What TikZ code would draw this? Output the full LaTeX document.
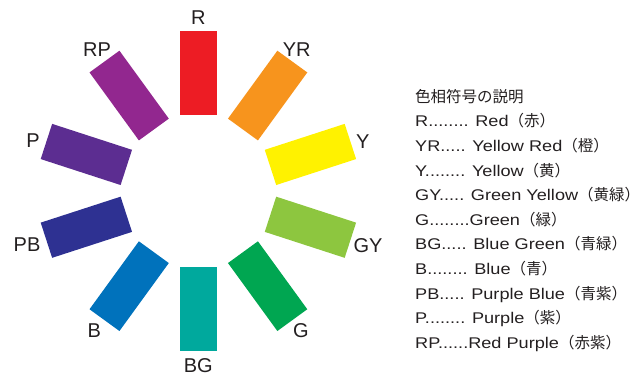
\documentclass[tikz,border=0pt]{standalone}
\usepackage{fontspec}
\setmainfont{Liberation Sans}
\newfontfamily\cjk{Noto Sans CJK JP}
\newfontfamily\legfont[FakeStretch=1.17]{Liberation Sans}
\usetikzlibrary{calc}
\definecolor{cR}{HTML}{ED1C24}
\definecolor{cYR}{HTML}{F7941D}
\definecolor{cY}{HTML}{FFF200}
\definecolor{cGY}{HTML}{8DC63F}
\definecolor{cG}{HTML}{00A651}
\definecolor{cBG}{HTML}{00A99D}
\definecolor{cB}{HTML}{0072BC}
\definecolor{cPB}{HTML}{2E3192}
\definecolor{cP}{HTML}{5C2D91}
\definecolor{cRP}{HTML}{92278F}
\definecolor{ink}{HTML}{231F20}
\begin{document}
\begin{tikzpicture}[x=1pt,y=1pt,
  bar/.style={minimum width=37pt,minimum height=84pt,inner sep=0pt,draw=none},
  lab/.style={font=\fontsize{20}{24}\selectfont,text=ink,inner sep=0pt},
  leg/.style={font=\legfont\fontsize{15.5}{18}\selectfont,text=ink,anchor=base west,inner sep=0pt}]
\useasboundingbox (0,0) rectangle (640,376);
\coordinate (c) at (198.4,185.15);
\foreach \nm/\ang/\col in {R/90/cR,YR/54/cYR,Y/18/cY,GY/-18/cGY,G/-54/cG,BG/-90/cBG,B/-126/cB,PB/-162/cPB,P/162/cP,RP/126/cRP}
  \node[bar,fill=\col,rotate=\ang-90] (bar\nm) at ($(c)+(\ang:117.8)$) {};
\node[lab] (lR) at (198.3,358.3) {R};
\node[lab] (lYR) at (296.7,326.7) {YR};
\node[lab] (lY) at (362.7,234.3) {Y};
\node[lab] (lGY) at (368,130.3) {GY};
\node[lab] (lG) at (301,45) {G};
\node[lab] (lBG) at (198.3,10.3) {BG};
\node[lab] (lB) at (94.3,45.3) {B};
\node[lab] (lPB) at (27,131) {PB};
\node[lab] (lP) at (33,235) {P};
\node[lab] (lRP) at (97,326) {RP};
\node[leg] (g0) at (415,{376-102.2}) {\cjk 色相符号の説明};
\node[leg] (g1) at (415,{376-102.2-24.6}) {R........ Red{\cjk （赤）}};
\node[leg] (g2) at (415,{376-102.2-2*24.6}) {YR..... Yellow Red{\cjk （橙）}};
\node[leg] (g3) at (415,{376-102.2-3*24.6}) {Y........ Yellow{\cjk （黄）}};
\node[leg] (g4) at (415,{376-102.2-4*24.6}) {GY..... Green Yellow{\cjk （黄緑）}};
\node[leg] (g5) at (415,{376-102.2-5*24.6}) {G........Green{\cjk （緑）}};
\node[leg] (g6) at (415,{376-102.2-6*24.6}) {BG..... Blue Green{\cjk （青緑）}};
\node[leg] (g7) at (415,{376-102.2-7*24.6}) {B........ Blue{\cjk （青）}};
\node[leg] (g8) at (415,{376-102.2-8*24.6}) {PB..... Purple Blue{\cjk （青紫）}};
\node[leg] (g9) at (415,{376-102.2-9*24.6}) {P........ Purple{\cjk （紫）}};
\node[leg] (g10) at (415,{376-102.2-10*24.6}) {RP......Red Purple{\cjk （赤紫）}};
\end{tikzpicture}
\end{document}
